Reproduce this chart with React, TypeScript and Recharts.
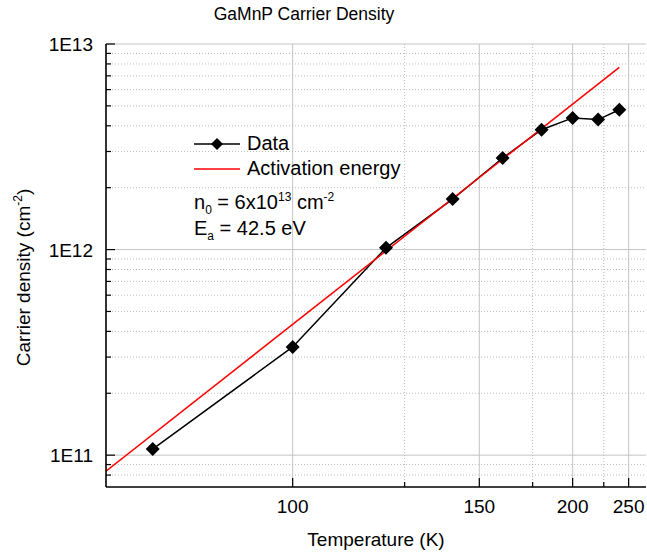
import React from 'react';
import { CartesianGrid, Legend, Line, LineChart, XAxis, YAxis } from 'recharts';

const FONT = '"Liberation Sans", Arial, Helvetica, sans-serif';

// measured points (K, cm^-2)
const temperatures = [80, 100, 120, 140, 160, 180, 200, 220, 240];
const carrierDensity = [1.07e11, 3.36e11, 1.02e12, 1.76e12, 2.79e12, 3.83e12, 4.37e12, 4.29e12, 4.79e12];

// activation energy fit, end points
const fitTemperatures = [75, 240];
const fitDensity = [8.35e10, 7.7e12];

const seriesNames = ['Data', 'Activation energy'];

// axis ticks
const majorTemps = [100, 150, 200, 250];
const minorTemps = [125, 175, 225];
const majorDensity = [1e11, 1e12, 1e13];
const minorDensity = [
	8e10, 9e10, 2e11, 3e11, 4e11, 5e11, 6e11, 7e11, 8e11, 9e11,
	2e12, 3e12, 4e12, 5e12, 6e12, 7e12, 8e12, 9e12,
];

const tempRange = [75, 271];
const densityRange = [7e10, 1e13];

// x axis is 1000/T, drawn reversed so temperature grows to the right
const inv = (t: number) => 1000 / t;
const dataRows = temperatures.map((t, i) => ({ inv: inv(t), n: carrierDensity[i] }));
const fitRows = fitTemperatures.map((t, i) => ({ inv: inv(t), n: fitDensity[i] }));

const xDomain = [inv(tempRange[1]), inv(tempRange[0])];
const xTicks = [...majorTemps, ...minorTemps].map(inv);
const yTicks = [...majorDensity, ...minorDensity].sort((a, b) => a - b);

const isMajorT = (v: number) => majorTemps.includes(Math.round(1000 / v));
const isMajorN = (v: number) => majorDensity.some((m) => Math.abs(m - v) / m < 1e-6);

function Diamond({ cx, cy, r = 7 }: any) {
	if (cx == null || cy == null) return null;
	return (
		<polygon
			points={`${cx},${cy - r} ${cx + r},${cy} ${cx},${cy + r} ${cx - r},${cy}`}
			fill='#000'
		/>
	);
}

const BottomTick = ({ x, y, payload }: any) => {
	const major = isMajorT(payload.value);
	return (
		<g>
			<line x1={x} x2={x} y1={y} y2={y - (major ? 9 : 5)} stroke='#000' strokeWidth={1.2} />
			{major && (
				<text x={x} y={y + 26} textAnchor='middle' fontFamily={FONT} fontSize={19} fill='#000'>
					{Math.round(1000 / payload.value)}
				</text>
			)}
		</g>
	);
};

const TopTick = ({ x, y, payload }: any) => {
	const major = isMajorT(payload.value);
	return <line x1={x} x2={x} y1={y} y2={y + (major ? 9 : 5)} stroke='#000' strokeWidth={1.2} />;
};

const LeftTick = ({ x, y, payload }: any) => {
	const major = isMajorN(payload.value);
	return (
		<g>
			<line x1={x} x2={x + (major ? 9 : 5)} y1={y} y2={y} stroke='#000' strokeWidth={1.2} />
			{major && (
				<text x={x - 13} y={y + 7} textAnchor='end' fontFamily={FONT} fontSize={19} fill='#000'>
					{'1E' + Math.round(Math.log10(payload.value))}
				</text>
			)}
		</g>
	);
};

const RightTick = ({ x, y, payload }: any) => {
	const major = isMajorN(payload.value);
	return <line x1={x} x2={x - (major ? 9 : 5)} y1={y} y2={y} stroke='#000' strokeWidth={1.2} />;
};

const YTitle = ({ viewBox }: any) => {
	if (!viewBox) return null;
	const cx = viewBox.x + 30;
	const cy = viewBox.y + viewBox.height / 2 + 12;
	return (
		<text
			x={cx}
			y={cy}
			transform={`rotate(-90 ${cx} ${cy})`}
			textAnchor='middle'
			fontFamily={FONT}
			fontSize={19}
			fill='#000'
		>
			Carrier density (cm
			<tspan dy={-8} fontSize={12}>-2</tspan>
			<tspan dy={8}>)</tspan>
		</text>
	);
};

const LegendBox = ({ payload }: any) => {
	const items = [...(payload || [])].sort(
		(a: any, b: any) => seriesNames.indexOf(a.value) - seriesNames.indexOf(b.value),
	);
	return (
		<div style={{ fontFamily: FONT, fontSize: 20, color: '#000', lineHeight: '25px' }}>
			{items.map((entry: any) => (
				<div key={entry.value} style={{ display: 'flex', alignItems: 'center', height: 25 }}>
					<svg width={53} height={16} style={{ display: 'block' }}>
						<line x1={0} x2={46} y1={8} y2={8} stroke={entry.color} strokeWidth={1.5} />
						{entry.value === 'Data' && <Diamond cx={23} cy={8} r={6} />}
					</svg>
					<span>{entry.value}</span>
				</div>
			))}
			<div style={{ marginTop: 4, height: 31 }}>
				n<sub style={{ fontSize: 12 }}>0</sub> = 6x10<sup style={{ fontSize: 12 }}>13</sup> cm
				<sup style={{ fontSize: 12 }}>-2</sup>
			</div>
			<div style={{ height: 31 }}>
				E<sub style={{ fontSize: 12 }}>a</sub> = 42.5 eV
			</div>
		</div>
	);
};

export default function App() {
	return (
		<div style={{ position: 'absolute', left: 0, top: 0, width: 647, height: 555, background: '#fff' }}>
			<div
				style={{
					position: 'absolute',
					left: 204,
					top: 4,
					width: 200,
					textAlign: 'center',
					fontFamily: FONT,
					fontSize: 17.5,
					color: '#000',
					whiteSpace: 'nowrap',
				}}
			>
				GaMnP Carrier Density
			</div>
			<LineChart width={647} height={555} margin={{ top: 44, right: 1, bottom: 0, left: 0 }}>
				<CartesianGrid
					stroke='#c4c4c4'
					horizontalValues={majorDensity}
					verticalValues={majorTemps.map(inv)}
				/>
				<CartesianGrid
					stroke='#bdbdbd'
					strokeDasharray='1 2'
					horizontalValues={minorDensity}
					verticalValues={minorTemps.map(inv)}
				/>
				<XAxis
					dataKey='inv'
					type='number'
					domain={xDomain}
					allowDataOverflow
					reversed
					ticks={xTicks}
					interval={0}
					height={68}
					tickSize={0}
					tickMargin={0}
					tick={<BottomTick />}
					axisLine={{ stroke: '#000', strokeWidth: 1.6 }}
					label={{ value: 'Temperature (K)', position: 'insideBottom', offset: 9, fontSize: 19, fontFamily: FONT, fill: '#000' }}
				/>
				<XAxis
					xAxisId='top'
					orientation='top'
					dataKey='inv'
					type='number'
					domain={xDomain}
					allowDataOverflow
					reversed
					ticks={xTicks}
					interval={0}
					height={0}
					tickSize={0}
					tickMargin={0}
					tick={<TopTick />}
					axisLine={{ stroke: '#000', strokeWidth: 1.6 }}
				/>
				<YAxis
					type='number'
					scale='log'
					domain={densityRange}
					allowDataOverflow
					ticks={yTicks}
					interval={0}
					width={106}
					tickSize={0}
					tickMargin={0}
					tick={<LeftTick />}
					axisLine={{ stroke: '#000', strokeWidth: 1.6 }}
					label={<YTitle />}
				/>
				<YAxis
					yAxisId='right'
					orientation='right'
					type='number'
					scale='log'
					domain={densityRange}
					allowDataOverflow
					ticks={yTicks}
					interval={0}
					width={0}
					tickSize={0}
					tickMargin={0}
					tick={<RightTick />}
					axisLine={{ stroke: '#000', strokeWidth: 1.6 }}
				/>
				<Line
					data={dataRows}
					dataKey='n'
					name='Data'
					type='linear'
					stroke='#000'
					strokeWidth={1.5}
					dot={(p: any) => <Diamond key={p.index} cx={p.cx} cy={p.cy} />}
					isAnimationActive={false}
				/>
				<Line
					data={fitRows}
					xAxisId='top'
					yAxisId='right'
					dataKey='n'
					name='Activation energy'
					type='linear'
					stroke='#ff0000'
					strokeWidth={1.5}
					dot={false}
					isAnimationActive={false}
				/>
				<Legend
					layout='vertical'
					align='center'
					verticalAlign='middle'
					content={<LegendBox />}
					wrapperStyle={{ left: 194, top: 131, width: 260, height: 'auto' }}
				/>
			</LineChart>
		</div>
	);
}
